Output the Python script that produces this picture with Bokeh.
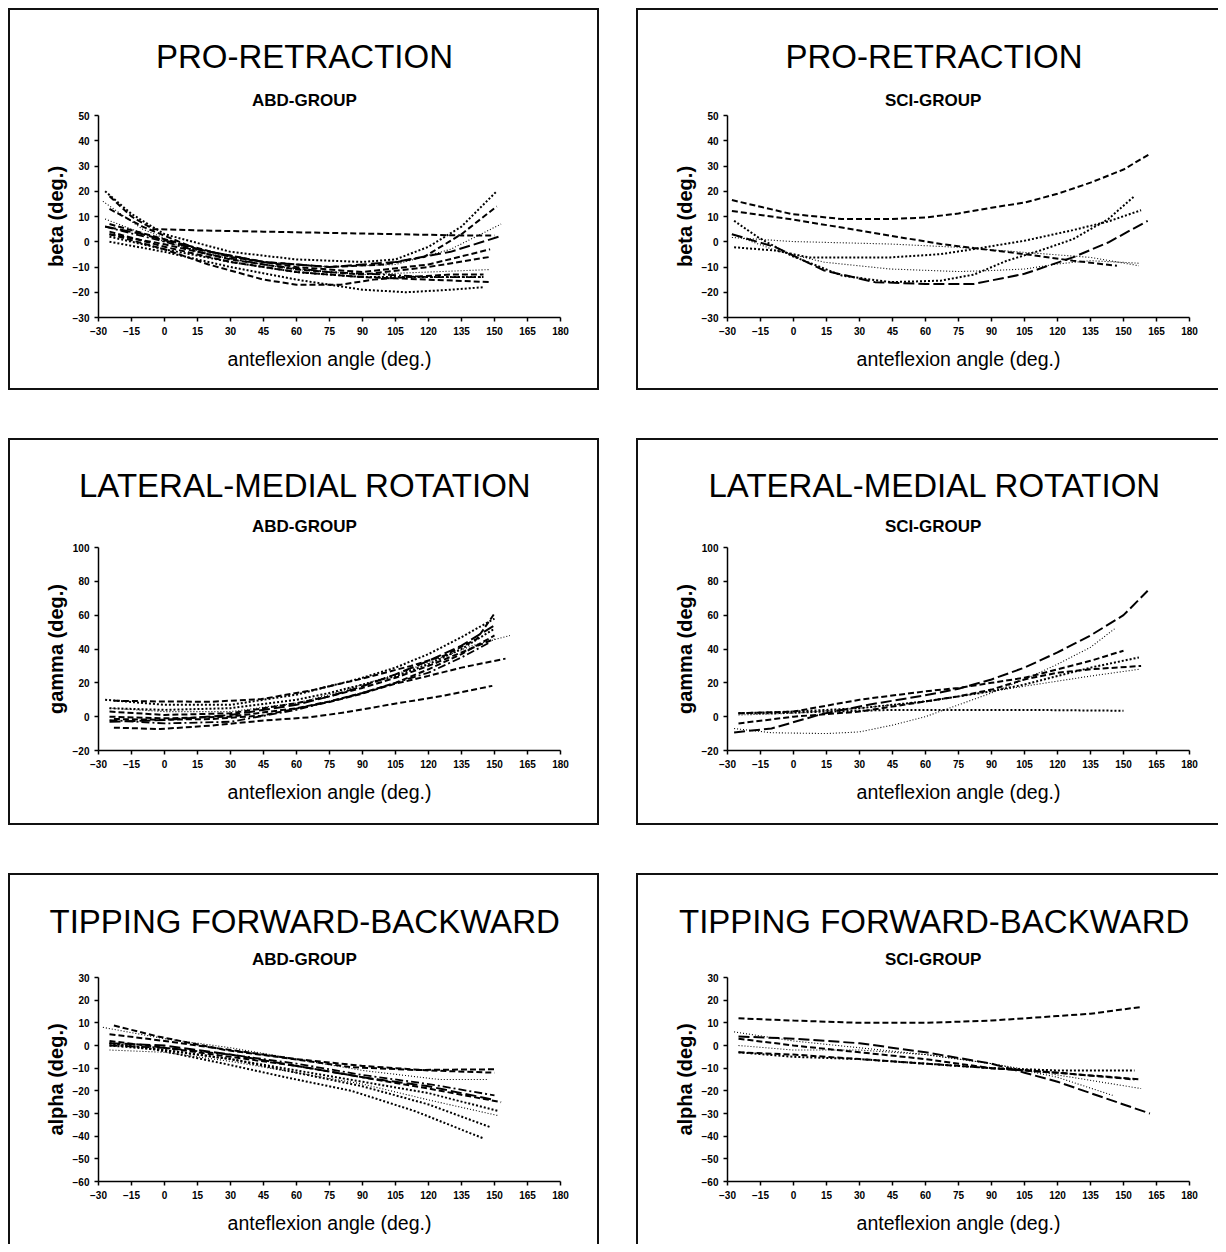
from bokeh.plotting import figure
from bokeh.models import Range1d, FixedTicker, Title
from bokeh.layouts import column, row
from bokeh.embed import file_html
from bokeh.resources import INLINE

# ---------------- tick values ----------------
x_ticks = list(range(-30, 181, 15))
beta_ticks = list(range(-30, 51, 10))
gamma_ticks = list(range(-20, 101, 20))
alpha_ticks = list(range(-60, 31, 10))

# ---------------- PRO-RETRACTION, ABD-GROUP ----------------
pro_abd_x = [
    [-25, -15, -5, 15, 45, 75, 105, 135, 150],
    [-27, -15, 0, 30, 60, 90, 105, 120, 135, 151],
    [-25, -10, 15, 45, 75, 100, 118, 135, 151],
    [-28, -10, 15, 45, 75, 105, 130, 153],
    [-27, -10, 15, 45, 75, 105, 130, 152],
    [-25, 0, 30, 60, 90, 120, 148],
    [-25, 0, 30, 60, 90, 120, 148],
    [-27, 0, 30, 60, 90, 120, 148],
    [-25, 0, 30, 60, 90, 120, 145],
    [-25, 0, 30, 60, 90, 120, 148],
    [-25, 0, 20, 45, 60, 80, 95, 110, 130, 145],
    [-25, 0, 30, 60, 90, 110, 130, 145],
    [-27, 0, 20, 45, 75, 100, 120, 145],
]
pro_abd_y = [
    [18, 10, 5, 4.5, 4, 3.5, 3, 2.5, 2.5],
    [20, 11, 3, -4, -7, -8, -7, -2, 6, 20],
    [13, 6, -3, -8, -10, -9, -6, 3, 14],
    [16, 5, -4, -8, -10, -9, -3, 7],
    [6, 3, -3, -8, -10, -8, -4, 2],
    [7, 1, -6, -10, -12, -9, -3],
    [3, -1, -7, -11, -13, -10, -6],
    [9, 0, -7, -11, -13, -12, -11],
    [2, -3, -8, -12, -14, -14, -14],
    [4, -2, -8, -12, -14, -15, -16],
    [3, -3, -9, -15, -17, -17, -15, -14, -13, -13],
    [0, -4, -10, -15, -19, -20, -19, -18],
    [6, 0, -5, -9, -12, -13, -14, -14],
]
pro_abd_kind = ["dash", "dot", "dash", "fine", "long", "dash", "dash", "fine",
                "dot", "dash", "dash", "dot", "dashdot"]

# ---------------- PRO-RETRACTION, SCI-GROUP ----------------
pro_sci_x = [
    [-28, -1, 22, 44, 60, 75, 90, 105, 120, 135, 150, 162],
    [-28, -1, 22, 44, 67, 82, 105, 127, 147],
    [-27, -16, -1, 22, 44, 67, 82, 97, 112, 127, 143, 155],
    [-28, -1, 44, 75, 105, 135, 157],
    [-27, -8, 7, 44, 67, 82, 105, 127, 143, 158],
    [-28, -8, 14, 37, 60, 82, 105, 127, 143, 161],
    [-28, -8, 14, 44, 75, 90, 105, 120, 135, 157],
]
pro_sci_y = [
    [16.5, 11, 9, 9, 9.6, 11.2, 13.5, 15.5, 19, 23.4, 28.6, 34.8],
    [12.2, 8.9, 5.6, 2.4, -0.9, -2.5, -4.9, -7.5, -9.5],
    [8.3, 1.7, -5.5, -13.4, -16, -15.4, -13, -7.5, -3.5, 1, 8.9, 18.1],
    [1.7, 0.1, -0.9, -2.2, -4.2, -6.2, -9.5],
    [-2.2, -3.5, -6.2, -6.2, -4.9, -2.9, 0.4, 4.6, 8, 12.5],
    [3, -2.2, -11.4, -16, -16.7, -16.7, -12.7, -6.2, -0.3, 8.3],
    [3, -3.5, -8.1, -10.8, -11.8, -11.4, -10.8, -8.8, -7.5, -8.5],
]
pro_sci_kind = ["dash", "dash", "dot", "fine", "dot", "long", "fine"]

# ---------------- LATERAL-MEDIAL ROTATION, ABD-GROUP ----------------
lat_abd_x = [
    [-23, -2, 21, 44, 66, 82, 104, 127, 149],
    [-23, -2, 21, 44, 59, 74, 89, 104, 120, 135, 155],
    [-23, -2, 21, 44, 66, 89, 112, 127, 142, 150],
    [-27, 0, 30, 60, 75, 90, 105, 120, 135, 150],
    [-25, 0, 30, 60, 75, 90, 105, 120, 135, 150],
    [-25, 0, 30, 60, 75, 90, 105, 120, 140, 157],
    [-25, 0, 30, 60, 75, 90, 105, 120, 135, 150],
    [-25, 0, 30, 60, 75, 90, 105, 120, 135, 150],
    [-25, 0, 30, 60, 75, 90, 105, 120, 135, 148],
    [-25, 0, 30, 60, 75, 90, 105, 120, 135, 150],
]
lat_abd_y = [
    [-6.5, -7.3, -5.3, -2.4, -0.4, 2.5, 7.5, 12.4, 18.2],
    [-1.4, -1.8, -1.4, 0.6, 4.5, 8.4, 13.3, 19.2, 24.1, 29, 34.3],
    [9.4, 9, 8.8, 10.4, 15.3, 22.2, 30, 36, 46, 61],
    [10, 7, 7, 13, 18, 23, 29, 37, 47, 58],
    [-3, -2, 1, 7, 12, 18, 25, 33, 42, 54],
    [5, 3, 3, 8, 13, 19, 25, 32, 42, 48],
    [0, -1, 0, 5, 9, 14, 20, 28, 37, 48],
    [3, 1, 2, 8, 12, 17, 23, 30, 38, 46],
    [-2, -4, -3, 4, 9, 14, 20, 26, 35, 44],
    [5, 4, 5, 10, 14, 19, 24, 31, 40, 52],
]
lat_abd_kind = ["dash", "dash", "dash", "dot", "long", "fine", "dash", "dash",
                "dashdot", "dot"]

# ---------------- LATERAL-MEDIAL ROTATION, SCI-GROUP ----------------
lat_sci_x = [
    [-27, -10, 13, 36, 59, 75, 90, 105, 120, 135, 150, 161],
    [-27, -10, 15, 30, 45, 60, 75, 90, 105, 120, 135, 146],
    [-25, 0, 30, 60, 75, 90, 105, 120, 135, 150],
    [-25, -10, 15, 45, 75, 105, 150],
    [-25, 0, 30, 60, 75, 90, 105, 120, 135, 157],
    [-25, 0, 30, 60, 75, 90, 105, 120, 135, 158],
    [-25, 0, 30, 60, 90, 105, 120, 135, 157],
]
lat_sci_y = [
    [-9.3, -7, 1.6, 7.5, 12.4, 16.5, 22, 29, 38, 48, 60, 74.4],
    [-7, -9.5, -10, -9, -5, 0, 7, 14, 22, 31, 41, 52],
    [2, 3, 10, 15, 17, 20, 23, 28, 33, 39],
    [2, 2, 3, 4, 4, 4, 3.5],
    [2, 3, 5, 9, 12, 15, 19, 24, 29, 35],
    [-4, 0, 3, 9, 12, 16, 22, 26, 28, 30],
    [1, 2, 5, 9, 15, 18, 21, 24, 28],
]
lat_sci_kind = ["long", "fine", "dash", "dot", "dot", "dash", "fine"]

# ---------------- TIPPING FORWARD-BACKWARD, ABD-GROUP ----------------
tip_abd_x = [
    [-23, -3, 27, 55, 85, 114, 151],
    [-25, 0, 30, 60, 90, 120, 150],
    [-28, 0, 30, 60, 90, 125, 147],
    [-25, 0, 30, 60, 90, 120, 150],
    [-25, 0, 30, 60, 90, 120, 153],
    [-25, 0, 30, 60, 90, 120, 152],
    [-25, 0, 30, 60, 90, 120, 152],
    [-25, 0, 30, 60, 90, 120, 148],
    [-25, -3, 27, 55, 85, 114, 145],
    [-25, 0, 30, 60, 90, 120, 150],
]
tip_abd_y = [
    [8.8, 4, -1.9, -5.5, -9.6, -10.8, -10.5],
    [5, 2, -2, -6, -9, -11, -12],
    [8, 3, -1, -6, -11, -15, -15],
    [1, 0, -4, -9, -14, -18, -24],
    [2, -1, -5, -9, -14, -19, -25],
    [1, -2, -6, -11, -16, -21, -29],
    [-2, -3, -7, -12, -17, -24, -31],
    [0, -2, -6, -12, -18, -26, -36],
    [1, -2, -8, -14, -20, -29, -41],
    [0, -1, -4, -8, -13, -17, -22],
]
tip_abd_kind = ["dash", "dash", "fine", "long", "dash", "dot", "fine", "dot",
                "dot", "dashdot"]

# ---------------- TIPPING FORWARD-BACKWARD, SCI-GROUP ----------------
tip_sci_x = [
    [-25, 0, 30, 60, 90, 120, 135, 158],
    [-25, 0, 30, 60, 90, 105, 120, 135, 150, 162],
    [-25, 0, 30, 60, 90, 120, 158],
    [-27, 0, 30, 60, 90, 120, 145],
    [-25, 0, 30, 60, 90, 120, 155],
    [-25, 0, 30, 60, 90, 120, 155],
    [-25, 0, 30, 60, 90, 120, 158],
]
tip_sci_y = [
    [12, 11, 10, 10, 11, 13, 14, 17],
    [4, 3, 1, -3, -8, -12, -16, -21, -26, -30],
    [3, 0, -3, -6, -10, -12, -15],
    [6, 2, -1, -4, -8, -14, -22],
    [-3, -5, -6, -8, -10, -11, -11],
    [-3, -4, -6, -8, -10, -12, -15],
    [0, -2, -2, -4, -8, -13, -19],
]
tip_sci_kind = ["dash", "long", "dash", "fine", "dot", "dash", "fine"]

# ---------------- styles ----------------
STYLE = {
    "dash": dict(line_dash="6 3", line_width=2.0),
    "long": dict(line_dash="11 4", line_width=2.0),
    "dot": dict(line_dash="2 2", line_width=2.0),
    "fine": dict(line_dash="1 2", line_width=1.1),
    "dashdot": dict(line_dash="8 3 2 3", line_width=1.8),
}
FONT = "Liberation Sans"
FRAME_W = 462
# approximate rendered widths (px) of the heading texts, used to centre them on the box
TEXT_W = {"PRO-RETRACTION": 296, "LATERAL-MEDIAL ROTATION": 450,
          "TIPPING FORWARD-BACKWARD": 509, "ABD-GROUP": 104, "SCI-GROUP": 97}


def make_panel(title, group, ylabel, yticks, xs, ys, kinds, left, geom):
    h, top, frame_h, last_row, s_group, s_title = geom
    w = 591 if left else 582
    bl = 88 if left else 89
    center_from_frame = 205.5 if left else 206
    border = {"border": "2px solid #111", "box-sizing": "border-box"}
    if not left:
        border["border-right"] = "none"
    if last_row:
        border["border-bottom"] = "none"
    ymin, ymax = yticks[0], yticks[-1]
    p = figure(width=w, height=h, output_backend="svg", toolbar_location=None,
               x_range=Range1d(-30, 180), y_range=Range1d(ymin, ymax),
               min_border_left=bl, min_border_right=w - bl - FRAME_W,
               min_border_top=top, min_border_bottom=h - top - frame_h,
               background_fill_color="white", border_fill_color="white",
               outline_line_color=None, styles=border)
    p.grid.visible = False
    for x, y, k in zip(xs, ys, kinds):
        p.line(x, y, line_color="black", **STYLE[k])
    for ax in (p.xaxis[0], p.yaxis[0]):
        ax.axis_line_width = 1.5
        ax.axis_line_color = "black"
        ax.major_tick_out = 4
        ax.major_tick_in = 0
        ax.major_tick_line_width = 1.5
        ax.minor_tick_line_color = None
        ax.major_label_text_font = FONT
        ax.major_label_text_font_style = "bold"
        ax.major_label_text_font_size = "10px"
        ax.major_label_text_color = "black"
        ax.axis_label_text_font = FONT
        ax.axis_label_text_color = "black"
    p.xaxis.ticker = FixedTicker(ticks=x_ticks)
    p.yaxis.ticker = FixedTicker(ticks=yticks)
    p.xaxis.axis_label = "anteflexion angle (deg.)"
    p.xaxis.axis_label_text_font_size = "19.5px"
    p.xaxis.axis_label_text_font_style = "normal"
    p.xaxis.axis_label_standoff = 10
    p.yaxis.axis_label = ylabel
    p.yaxis.axis_label_text_font_size = "20px"
    p.yaxis.axis_label_text_font_style = "bold"
    p.yaxis.axis_label_standoff = 3

    off_g = center_from_frame - TEXT_W[group] / 2
    off_t = center_from_frame - TEXT_W[title] / 2
    p.add_layout(Title(text=group, align="left", offset=off_g, standoff=s_group,
                       vertical_align="middle", text_font=FONT,
                       text_font_size="17px", text_font_style="bold",
                       text_color="black"), "above")
    p.add_layout(Title(text=title, align="left", offset=off_t, standoff=s_title,
                       vertical_align="middle", text_font=FONT,
                       text_font_size="33px", text_font_style="normal",
                       text_color="black"), "above")
    return p


r1 = (382, 105, 202, False, 10, 18)
r2 = (387, 107, 203, False, 22, 0)
r3 = (371, 102, 204, True, 16, 0)

p1 = make_panel("PRO-RETRACTION", "ABD-GROUP", "beta (deg.)", beta_ticks,
                pro_abd_x, pro_abd_y, pro_abd_kind, True, r1)
p2 = make_panel("PRO-RETRACTION", "SCI-GROUP", "beta (deg.)", beta_ticks,
                pro_sci_x, pro_sci_y, pro_sci_kind, False, r1)
p3 = make_panel("LATERAL-MEDIAL ROTATION", "ABD-GROUP", "gamma (deg.)", gamma_ticks,
                lat_abd_x, lat_abd_y, lat_abd_kind, True, r2)
p4 = make_panel("LATERAL-MEDIAL ROTATION", "SCI-GROUP", "gamma (deg.)", gamma_ticks,
                lat_sci_x, lat_sci_y, lat_sci_kind, False, r2)
p5 = make_panel("TIPPING FORWARD-BACKWARD", "ABD-GROUP", "alpha (deg.)", alpha_ticks,
                tip_abd_x, tip_abd_y, tip_abd_kind, True, r3)
p6 = make_panel("TIPPING FORWARD-BACKWARD", "SCI-GROUP", "alpha (deg.)", alpha_ticks,
                tip_sci_x, tip_sci_y, tip_sci_kind, False, r3)

layout = column(row(p1, p2, spacing=37), row(p3, p4, spacing=37),
                row(p5, p6, spacing=37), spacing=48, margin=(8, 0, 0, 8))

open("out.html", "w").write(file_html(layout, INLINE))
